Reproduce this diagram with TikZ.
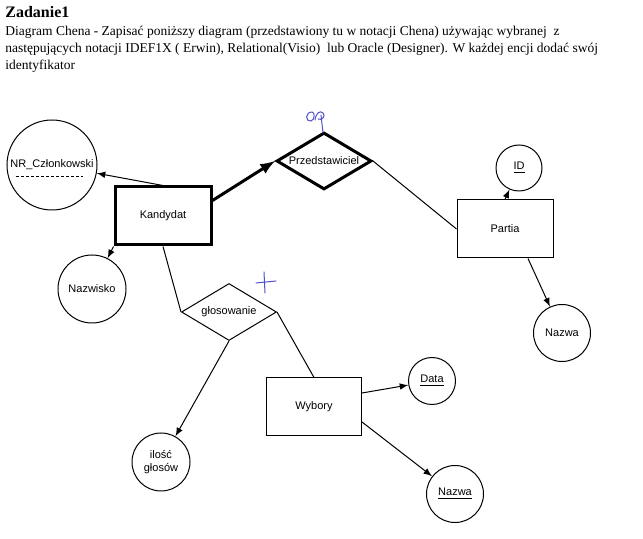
\documentclass[tikz,border=0pt]{standalone}
\usepackage{fontspec}
\setmainfont{Liberation Serif}
\newfontfamily\arialfont{Liberation Sans}
\usetikzlibrary{shapes,arrows,positioning}
\definecolor{handblue}{RGB}{80,80,205}
\tikzstyle{ent}=[rectangle,draw,line width=0.5pt,inner sep=0pt,minimum width=48pt,minimum height=29pt,font=\arialfont\fontsize{5.5}{6.6}\selectfont]
\tikzstyle{rel}=[diamond,draw,line width=0.5pt,inner sep=0pt,aspect=1.67,minimum width=47.5pt,minimum height=28.5pt,font=\arialfont\fontsize{5.5}{6.6}\selectfont]
\tikzstyle{attr}=[circle,draw,line width=0.5pt,inner sep=0pt,align=center,font=\arialfont\fontsize{5.5}{6.6}\selectfont]
\tikzstyle{heavy}=[line width=1.5pt]
\tikzstyle{txt}=[anchor=base west,inner sep=0pt,font=\fontsize{6.75}{8.5}\selectfont]
\tikzstyle{arr}=[-latex,line width=0.5pt]
\tikzstyle{lin}=[line width=0.5pt]
\tikzstyle{hand}=[draw=handblue,line width=0.5pt,line cap=round]

\begin{document}
\begin{tikzpicture}[x=0.5pt,y=-0.5pt]
\useasboundingbox (0,0) rectangle (643,539);
% task text
\node[txt,font=\bfseries\fontsize{8}{9.6}\selectfont] (title) at (5,18) {Zadanie1};
\node[txt] (line1) at (5,36) {Diagram Chena - Zapisać poniższy diagram (przedstawiony tu w notacji Chena) używając wybranej\ \ z};
\node[txt] (line2) at (5,53) {następujących notacji IDEF1X ( Erwin), Relational(Visio)\ \ lub Oracle (Designer). W każdej encji dodać swój};
\node[txt] (line3) at (5,70) {identyfikator};
% entities and relations
\node[ent,heavy] (kand) at (163,216) {Kandydat};
\node[ent] (partia) at (505,229) {Partia};
\node[ent,minimum width=47.5pt] (wyb) at (314,407) {Wybory};
\node[rel,heavy] (przed) at (324,161) {Przedstawiciel};
\node[rel] (glos) at (229,312) {głosowanie};
% attributes
\node[attr,minimum size=45pt] (nr) at (52,165) {NR\_Członkowski};
\node[attr,minimum size=34pt] (nazwisko) at (92,289) {Nazwisko};
\node[attr,minimum size=23pt] (id) at (519,168) {\underline{ID}};
\node[attr,minimum size=28.5pt] (nazwa) at (562,333) {Nazwa};
\node[attr,minimum size=23.5pt] (data) at (432,381) {\underline{Data}};
\node[attr,minimum size=29pt] (ilosc) at (161,462) {ilość\\głosów};
\node[attr,minimum size=28.5pt] (nazwab) at (455,494) {\underline{Nazwa}};
\draw[lin,dash pattern=on 1.5pt off 1pt] ([shift={(-36,12)}]nr.center) -- ([shift={(31,12)}]nr.center);
% connectors
\draw[arr] (kand.north) -- (nr);
\draw[arr] (kand.south west) -- (nazwisko);
\draw[-latex,heavy] ([shift={(0,15)}]kand.north east) -- (przed.west);
\draw[lin] (przed.east) -- (partia.west);
\draw[arr] (partia.north) -- (id);
\draw[arr] ([shift={(23,0)}]partia.south) -- (nazwa);
\draw[lin] (kand.south) -- (glos.west);
\draw[lin] (glos.east) -- (wyb.north);
\draw[arr] (glos.south) -- (ilosc);
\draw[arr] ([shift={(0,-14)}]wyb.east) -- (data);
\draw[arr] ([shift={(0,15)}]wyb.east) -- (nazwab);
% handwritten marks
\draw[hand] (312,112) .. controls (305,112) and (305,122) .. (311,121) .. controls (315,120) and (315,112) .. (312,112);
\draw[hand] (315,120) .. controls (316,113) and (320,110) .. (323,113) .. controls (326,116) and (322,121) .. (318,119);
\draw[hand] (321,115) -- (323,133);
\draw[hand] (256,283) -- (276,281);
\draw[hand] (264,272) -- (265,293);
\end{tikzpicture}
\end{document}
